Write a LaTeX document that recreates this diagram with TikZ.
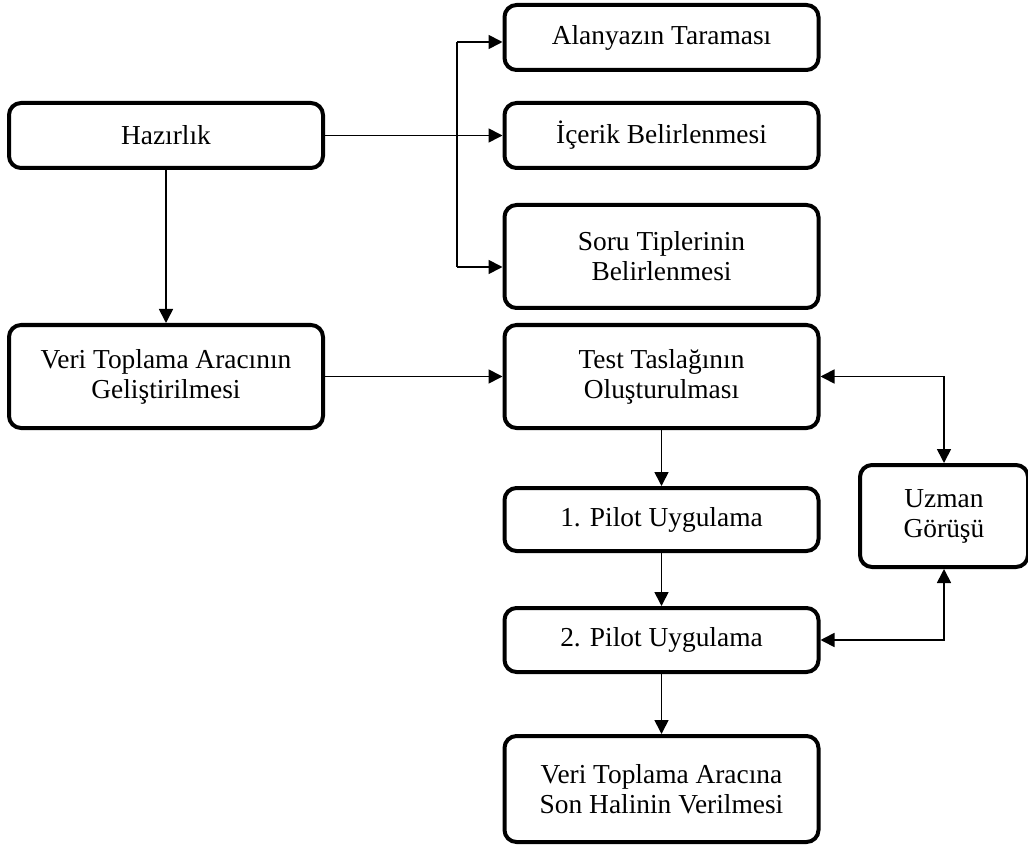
\documentclass[tikz,border=0pt]{standalone}
\usepackage{fontspec}
\setmainfont{Liberation Serif}
\usetikzlibrary{positioning,arrows.meta,calc}

\begin{document}
\begin{tikzpicture}[
  x=0.5pt, y=-0.5pt,
  font=\fontsize{13.7}{15}\selectfont,
  >={Triangle[length=7pt,width=7pt]},
  box/.style={draw, rounded corners=6pt, align=center,
              line width=2pt, inner sep=2pt},
  wbox/.style ={box, minimum width=157pt},
  lowbox/.style={wbox, minimum height=32.5pt},
  tallbox/.style={wbox, minimum height=51.5pt},
  flow/.style={->, line width=0.85pt},
  both/.style={<->, line width=0.85pt},
]
\useasboundingbox (0,0) rectangle (1028,845);

% left column
\node[lowbox]  (hazir) at (166,135.5) {Hazırlık};
\node[tallbox] (veri)  at (166,376.5) {Veri Toplama Aracının\\Geliştirilmesi};

% preparation steps
\node[lowbox]  (alan)   at (661.5,37.5)  {Alanyazın Taraması};
\node[lowbox]  (icerik) at (661.5,135.5) {İçerik Belirlenmesi};
\node[tallbox] (soru)   at (661.5,256.5) {Soru Tiplerinin\\Belirlenmesi};

% development steps
\node[tallbox] (test)   at (661.5,376.5) {Test Taslağının\\Oluşturulması};
\node[lowbox, minimum height=31.5pt] (pilot1) at (661.5,519.5) {1. Pilot Uygulama};
\node[lowbox, minimum height=32pt]   (pilot2) at (661.5,640)   {2. Pilot Uygulama};
\node[wbox, minimum height=53pt]     (son)    at (661.5,789)
  {Veri Toplama Aracına\\Son Halinin Verilmesi};
\node[box, minimum width=84pt, minimum height=51pt] (uzman) at (944,516)
  {Uzman\\Görüşü};

% branch from Hazırlık
\coordinate (jtop) at (457,42);
\coordinate (jmid) at (457,135.5);
\coordinate (jbot) at (457,267);
\draw[line width=0.85pt] (hazir.east) -- (jmid);
\draw[line width=0.85pt] (jtop) -- (jbot);
\draw[flow] (jtop) -- (jtop -| alan.west);
\draw[flow] (jmid) -- (icerik.west);
\draw[flow] (jbot) -- (jbot -| soru.west);

% main flow
\draw[flow] (hazir.south)  -- (veri.north);
\draw[flow] (veri.east)    -- (test.west);
\draw[flow] (test.south)   -- (pilot1.north);
\draw[flow] (pilot1.south) -- (pilot2.north);
\draw[flow] (pilot2.south) -- (son.north);

% expert feedback
\draw[both] (test.east)  -| (uzman.north);
\draw[both] (pilot2.east) -| (uzman.south);

\end{tikzpicture}
\end{document}
